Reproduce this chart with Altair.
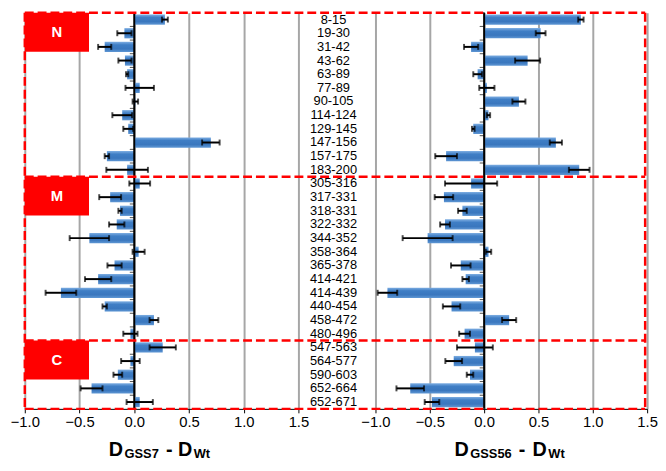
import altair as alt
import pandas as pd

categories = ["8-15", "19-30", "31-42", "43-62", "63-89", "77-89", "90-105", "114-124",
              "129-145", "147-156", "157-175", "183-200",
              "305-316", "317-331", "318-331", "322-332", "344-352", "358-364", "365-378",
              "414-421", "414-439", "440-454", "458-472", "480-496",
              "547-563", "564-577", "590-603", "652-664", "652-671"]
groups = ["N"] * 12 + ["M"] * 12 + ["C"] * 5

gss7 = [0.28, -0.09, -0.27, -0.085, -0.065, 0.05, 0.01, -0.11, -0.055, 0.70, -0.25, -0.065,
        0.05, -0.22, -0.13, -0.16, -0.41, 0.04, -0.18, -0.33, -0.67, -0.27, 0.18, -0.035,
        0.26, -0.035, -0.15, -0.39, 0.05]
gss7_err = [0.027, 0.065, 0.06, 0.06, 0.01, 0.13, 0.025, 0.09, 0.045, 0.08, 0.02, 0.19,
            0.095, 0.10, 0.015, 0.07, 0.18, 0.055, 0.065, 0.12, 0.14, 0.02, 0.04, 0.065,
            0.12, 0.085, 0.04, 0.10, 0.12]
gss56 = [0.89, 0.52, -0.12, 0.40, -0.06, 0.025, 0.32, 0.04, -0.10, 0.66, -0.35, 0.875,
         -0.12, -0.37, -0.20, -0.36, -0.52, 0.04, -0.215, -0.17, -0.89, -0.30, 0.23, -0.18,
         -0.085, -0.28, -0.13, -0.68, -0.48]
gss56_err = [0.025, 0.045, 0.065, 0.115, 0.04, 0.07, 0.06, 0.015, 0.012, 0.056, 0.10, 0.095,
             0.24, 0.085, 0.04, 0.045, 0.23, 0.025, 0.09, 0.03, 0.09, 0.08, 0.065, 0.05,
             0.165, 0.077, 0.03, 0.127, 0.067]
tick_values = [-1.0, -0.5, 0.0, 0.5, 1.0, 1.5]
group_names = ["N", "M", "C"]

W_L, W_R, SP, H = 277, 275, 78, 401
N = len(categories)
STEP = H / N
FONT = "Liberation Sans"

df = pd.DataFrame({"cat": categories, "grp": groups,
                   "g7": gss7, "e7": gss7_err, "g56": gss56, "e56": gss56_err})
df["g7_lo"] = df["g7"] - df["e7"]
df["g7_hi"] = df["g7"] + df["e7"]
df["g56_lo"] = df["g56"] - df["e56"]
df["g56_hi"] = df["g56"] + df["e56"]
one = pd.DataFrame({"a": [0]})

bar_grad = alt.LinearGradient(
    gradient="linear", x1=0, y1=0, x2=0, y2=1,
    stops=[alt.GradientStop(color="#7eaee2", offset=0),
           alt.GradientStop(color="#3f7ec5", offset=0.3),
           alt.GradientStop(color="#3a77be", offset=0.7),
           alt.GradientStop(color="#5f97d4", offset=1)])

ysc = alt.Scale(domain=categories, paddingInner=0.25, paddingOuter=0.125)
xsc = alt.Scale(domain=[-1, 1.5], nice=False, zero=False)


def title_layers(parts):
    out = []
    for txt, px, big in parts:
        out.append(alt.Chart(one).mark_text(
            align="left", baseline="alphabetic", font=FONT, fontWeight="bold",
            fontSize=20 if big else 13, color="#000").encode(
            x=alt.value(px), y=alt.value(H + (48 if big else 50)), text=alt.value(txt)))
    return out


def panel(val, lo, hi, parts, show_labels):
    base = alt.Chart(df)
    xax = alt.Axis(values=tick_values, format=".1f", title=None, grid=True,
                   gridColor="#a6a6a6", gridWidth=2, gridOpacity=1,
                   domain=True, domainColor="#000", domainWidth=1,
                   ticks=True, tickColor="#000", tickSize=4, tickWidth=1,
                   labelFontSize=15, labelColor="#000", labelPadding=2, labelFont=FONT,
                   labelFlush=False)
    if show_labels:
        yax = alt.Axis(title=None, domain=False, ticks=False, grid=False,
                       labelAlign="center", labelBaseline="middle", labelPadding=43,
                       labelFontSize=13, labelColor="#000", labelFont=FONT,
                       labelLimit=300, labelOverlap=False)
    else:
        yax = None

    def Y():
        return alt.Y("cat:N", scale=ysc, sort=categories, axis=yax)

    def X(f):
        return alt.X(f"{f}:Q", scale=xsc, axis=xax)

    bars = base.mark_bar(color=bar_grad).encode(x=X(val), y=Y())
    zero = base.mark_rule(color="#000", strokeWidth=2).encode(
        x=alt.X("zz:Q", scale=xsc, axis=xax)).transform_calculate(zz="0").transform_filter(
        alt.datum.cat == categories[0])
    zticks = base.mark_tick(orient="horizontal", size=5, thickness=1, color="#000",
                            yOffset=-STEP / 2, xOffset=-2).encode(
        x=alt.X("zz:Q", scale=xsc, axis=xax), y=Y()).transform_calculate(zz="0")
    err = base.mark_rule(color="#000", strokeWidth=2).encode(
        x=X(lo), x2=f"{hi}:Q", y=Y())
    cap_lo = base.mark_tick(color="#000", thickness=2, size=6).encode(x=X(lo), y=Y())
    cap_hi = base.mark_tick(color="#000", thickness=2, size=6).encode(x=X(hi), y=Y())
    return [bars, zero, zticks, err, cap_lo, cap_hi] + title_layers(parts)


left_layers = panel("g7", "g7_lo", "g7_hi",
                    [("D", 85, True), ("GSS7", 101, False), ("-", 143, True),
                     ("D", 155, True), ("Wt", 171, False)], False)
right_layers = panel("g56", "g56_lo", "g56_hi",
                     [("D", 80, True), ("GSS56", 96, False), ("-", 145, True),
                      ("D", 159, True), ("Wt", 175, False)], True)

# red dashed frame and group boxes (drawn in right panel coordinates)
xl = -(W_L + SP)
xr = W_R - 2
red = "#ff0000"
deco = []
starts = [groups.index(g) for g in group_names]
for yy in [s * STEP for s in starts] + [H]:
    deco.append(alt.Chart(one).mark_rule(color=red, strokeWidth=2.5, strokeDash=[9, 4]).encode(
        x=alt.value(xl), x2=alt.value(xr), y=alt.value(yy)))
for xx in [xl, xr]:
    deco.append(alt.Chart(one).mark_rule(color=red, strokeWidth=2.5, strokeDash=[9, 4]).encode(
        x=alt.value(xx), y=alt.value(0), y2=alt.value(H)))
for g, s in zip(group_names, starts):
    y0 = s * STEP
    deco.append(alt.Chart(one).mark_rect(color=red).encode(
        x=alt.value(xl), x2=alt.value(xl + 65), y=alt.value(y0), y2=alt.value(y0 + 2.85 * STEP)))
    deco.append(alt.Chart(one).mark_text(color="#fff", fontWeight="bold", fontSize=15, font=FONT,
                                         align="center", baseline="middle").encode(
        x=alt.value(xl + 32.5), y=alt.value(y0 + 1.42 * STEP), text=alt.value(g)))

left = alt.layer(*left_layers).properties(width=W_L, height=H)
right = alt.layer(*(right_layers + deco)).properties(width=W_R, height=H)

chart = alt.hconcat(left, right, spacing=SP, bounds="flush").properties(
    padding={"left": 2, "top": 0, "right": 0, "bottom": 0}
).configure(font=FONT).configure_view(stroke=None)

chart.save("out.html", embed_options={"renderer": "svg", "actions": False})
